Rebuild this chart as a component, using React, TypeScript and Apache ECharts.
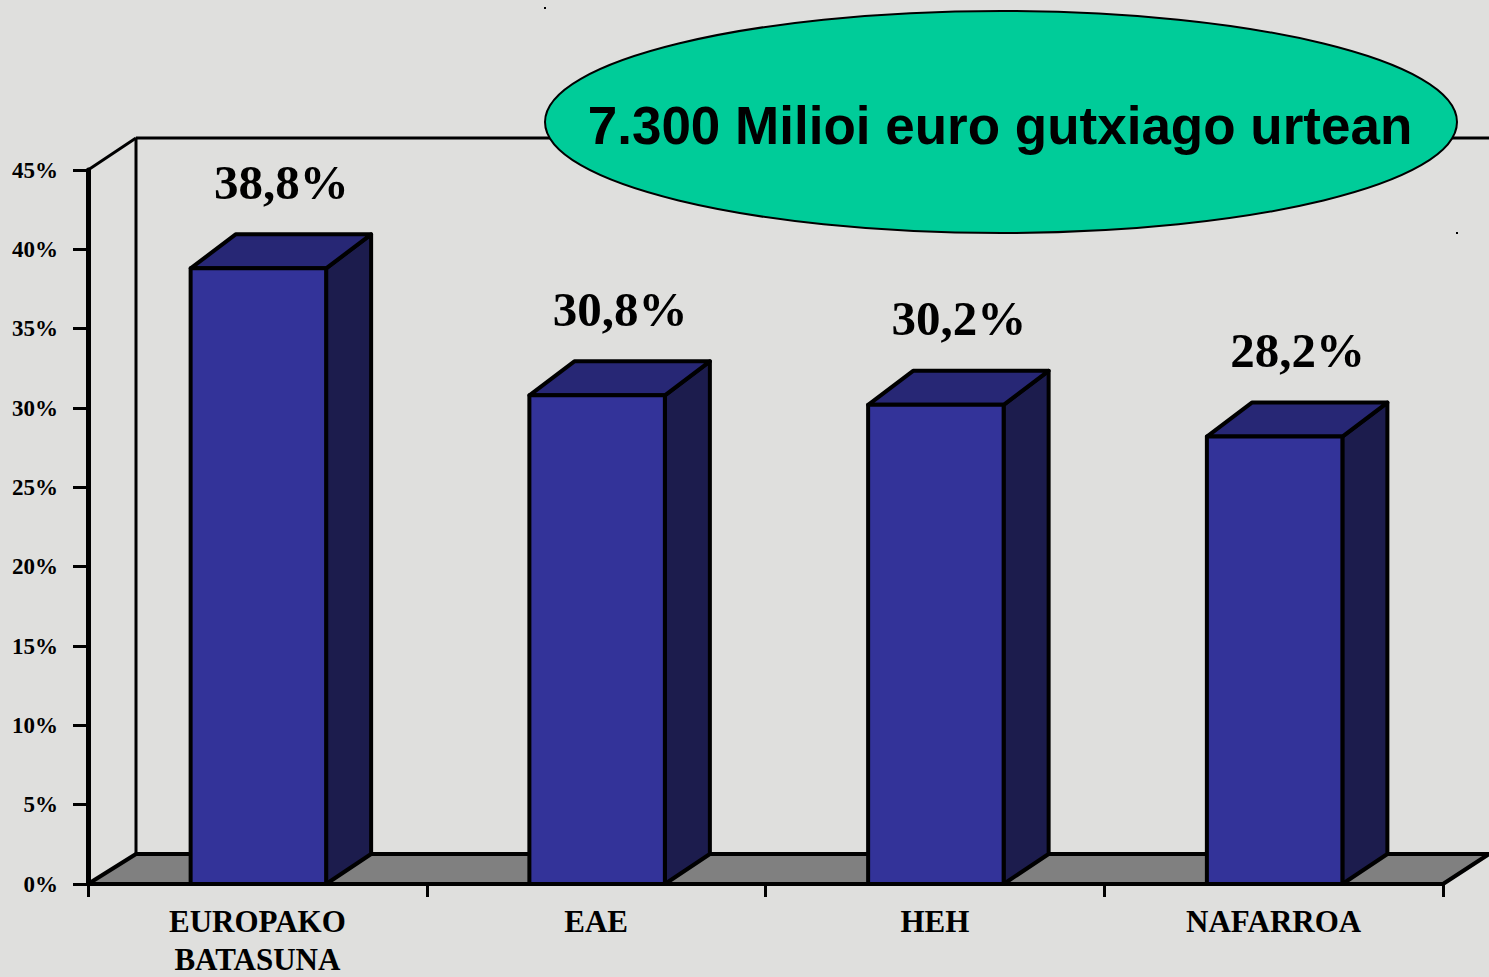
import React, { useEffect, useRef } from "react";
import * as echarts from "echarts";

const categories = ["EUROPAKO\nBATASUNA", "EAE", "HEH", "NAFARROA"];
const values = [38.8, 30.8, 30.2, 28.2];
const valueLabels = ["38,8%", "30,8%", "30,2%", "28,2%"];
const yTicks = { min: 0, max: 45, interval: 5 };
const headline = "7.300 Milioi euro gutxiago urtean";

const FRONT = "#333399";
const TOP = "#272775";
const SIDE = "#1c1c4d";
const FLOOR = "#808080";
const BG = "#dfdfdd";

export default function App() {
  const ref = useRef<HTMLDivElement>(null);
  useEffect(() => {
    if (!ref.current) return;
    const chart = echarts.init(ref.current, undefined, { renderer: "svg" });
    const barData = values.map((v, i) => [i, v, i]);
    chart.setOption({
      animation: false,
      backgroundColor: BG,
      grid: {
        left: 88,
        right: 46,
        top: 170,
        bottom: 93,
        containLabel: false,
        outerBoundsMode: "none",
      },
      xAxis: {
        type: "category",
        data: categories,
        z: 10,
        axisLine: { show: true, lineStyle: { color: "#000", width: 4 } },
        axisTick: { show: true, length: 13, lineStyle: { color: "#000", width: 3 } },
        axisLabel: {
          color: "#000",
          fontFamily: "Liberation Serif",
          fontWeight: "bold",
          fontSize: 31,
          lineHeight: 38,
          margin: 18,
          interval: 0,
        },
        splitLine: { show: false },
      },
      yAxis: {
        type: "value",
        min: yTicks.min,
        max: yTicks.max,
        interval: yTicks.interval,
        z: 10,
        axisLine: { show: true, lineStyle: { color: "#000", width: 5 } },
        axisTick: { show: true, length: 15, lineStyle: { color: "#000", width: 3 } },
        axisLabel: {
          formatter: "{value}%",
          color: "#000",
          fontFamily: "Liberation Serif",
          fontWeight: "bold",
          fontSize: 23,
          margin: 30,
        },
        splitLine: { show: false },
      },
      graphic: [
        {
          type: "ellipse",
          z: 100,
          shape: { cx: 1001, cy: 122, rx: 456, ry: 111 },
          style: { fill: "#00cc99", stroke: "#000", lineWidth: 2 },
        },
        {
          type: "text",
          z: 101,
          x: 1000,
          y: 125,
          style: {
            text: headline,
            font: "bold 53px 'Liberation Sans', Arial, sans-serif",
            fill: "#000",
            align: "center",
            verticalAlign: "middle",
          },
        },
        { type: "rect", z: 100, shape: { x: 544, y: 7, width: 2, height: 2 }, style: { fill: "#000" } },
        { type: "rect", z: 100, shape: { x: 1456, y: 232, width: 2, height: 2 }, style: { fill: "#000" } },
      ],
      series: [
        {
          type: "custom",
          z: 1,
          silent: true,
          data: [[0, 0]],
          renderItem: (params: any, api: any) => {
            const cs = params.coordSys;
            const x = cs.x, y = cs.y, w = cs.width, h = cs.height;
            const yb = y + h;
            const dx = 48, dy = -30;
            return {
              type: "group",
              children: [
                {
                  type: "polygon",
                  shape: { points: [[x, yb], [x + w, yb], [x + w + dx - 2, yb + dy], [x + dx, yb + dy]] },
                  style: { fill: FLOOR, stroke: "#000", lineWidth: 4, lineJoin: "round" },
                },
                {
                  type: "line",
                  shape: { x1: x + dx, y1: yb + dy, x2: x + dx, y2: y - 32 },
                  style: { stroke: "#000", lineWidth: 3 },
                },
                {
                  type: "line",
                  shape: { x1: x + dx, y1: y - 32, x2: x + w + 60, y2: y - 32 },
                  style: { stroke: "#000", lineWidth: 3 },
                },
                {
                  type: "line",
                  shape: { x1: x, y1: y, x2: x + dx, y2: y - 32 },
                  style: { stroke: "#000", lineWidth: 3 },
                },
              ],
            };
          },
        },
        {
          type: "custom",
          z: 2,
          data: barData,
          encode: { x: 0, y: 1 },
          renderItem: (params: any, api: any) => {
            const idx = api.value(0);
            const v = api.value(1);
            const top = api.coord([idx, v]);
            const bot = api.coord([idx, 0]);
            const band = api.size([1, 0])[0];
            const bw = band * 0.4;
            const x0 = top[0] - bw / 2 + 1;
            const x1 = x0 + bw;
            const yT = top[1];
            const yB = bot[1];
            const dx = 45, dyT = -34, dyB = -30;
            const st = { stroke: "#000", lineWidth: 4, lineJoin: "round" };
            return {
              type: "group",
              children: [
                {
                  type: "polygon",
                  shape: { points: [[x1, yT], [x1 + dx, yT + dyT], [x1 + dx, yB + dyB], [x1, yB]] },
                  style: { fill: SIDE, ...st },
                },
                {
                  type: "polygon",
                  shape: { points: [[x0, yT], [x0 + dx, yT + dyT], [x1 + dx, yT + dyT], [x1, yT]] },
                  style: { fill: TOP, ...st },
                },
                {
                  type: "rect",
                  shape: { x: x0, y: yT, width: bw, height: yB - yT },
                  style: { fill: FRONT, ...st },
                },
                {
                  type: "text",
                  x: top[0] + 24,
                  y: yT - 86,
                  style: {
                    text: valueLabels[params.dataIndex],
                    font: "bold 49px 'Liberation Serif', 'Times New Roman', serif",
                    fill: "#000",
                    align: "center",
                    verticalAlign: "middle",
                  },
                },
              ],
            };
          },
        },
      ],
    });
    return () => chart.dispose();
  }, []);
  return (
    <div
      ref={ref}
      style={{ position: "absolute", left: 0, top: 0, width: 1489, height: 977 }}
    />
  );
}
